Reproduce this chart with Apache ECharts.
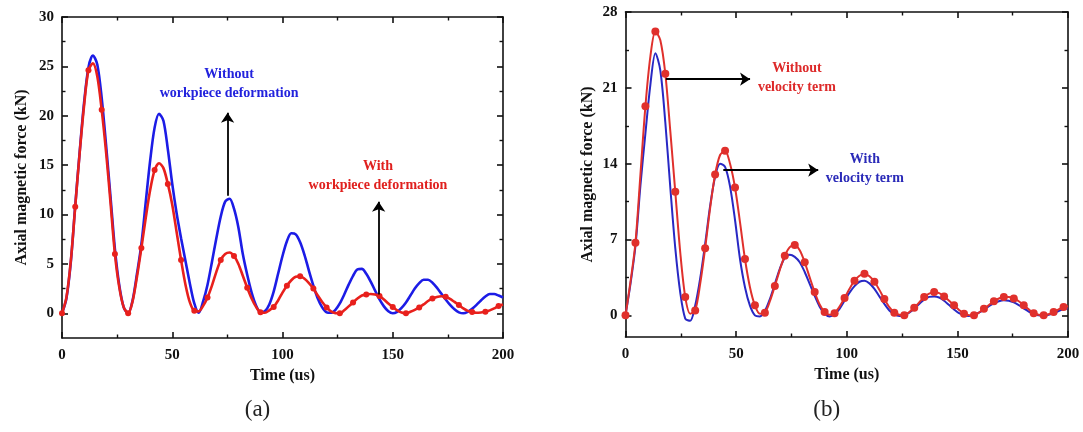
<!DOCTYPE html>
<html>
<head>
<meta charset="utf-8">
<script src="https://cdn.jsdelivr.net/npm/echarts@6.0.0/dist/echarts.min.js"></script>
<style>html,body{margin:0;padding:0;background:#fff;}#c{width:1083px;height:432px;}</style>
</head>
<body>
<div id="c"></div>
<script>
// ---------- DATA ----------
// (a) time grid in us
const timeA = [0,2,4,6,8,10,12,14,16,18,20,22,24,26,28,30,32,34,36,38,40,42,44,46,48,50,52,54,56,58,60,62,64,66,68,70,72,74,76,78,80,82,84,86,88,90,92,94,96,98,100,102,104,106,108,110,112,114,116,118,120,122,124,126,128,130,132,134,136,138,140,142,144,146,148,150,152,154,156,158,160,162,164,166,168,170,172,174,176,178,180,182,184,186,188,190,192,194,196,198,200];
// (a) Without workpiece deformation (blue), kN
const withoutDeform = [0,1.5,5.2,10.9,16.3,21.3,24.9,26.1,25.2,21.8,17.0,11.8,6.5,2.8,0.6,0.0,
  1.3,4.0,7.0,11.3,15.5,18.8,20.2,19.5,16.6,13.1,10.1,7.6,5.3,3.0,1.0,0.05,
  1.2,2.9,5.2,7.6,9.8,11.3,11.6,10.6,8.7,6.0,3.9,2.1,0.8,0.1,
  0.2,0.9,2.2,4.0,5.8,7.3,8.1,8.0,7.2,5.9,4.3,2.8,1.5,0.6,0.1,
  0.05,0.35,1.0,1.9,2.9,3.8,4.45,4.5,4.0,3.2,2.3,1.4,0.7,0.2,0.0,
  0.15,0.55,1.1,1.8,2.5,3.05,3.4,3.4,3.1,2.6,2.0,1.4,0.85,0.4,0.1,0.0,
  0.15,0.45,0.85,1.3,1.7,1.95,1.95,1.8,1.6];
// (a) With workpiece deformation (red), kN
const withDeform = [0,1.6,5.3,10.8,16.2,21.0,24.6,25.3,24.0,20.6,16.3,11.2,6.0,2.6,0.6,0.0,
  1.2,3.7,6.6,9.7,12.5,14.5,15.2,14.7,13.1,11.0,8.2,5.4,2.9,1.1,0.25,0.2,
  0.75,1.6,2.8,4.2,5.4,6.0,6.15,5.8,5.0,3.8,2.6,1.5,0.65,0.1,
  0.05,0.3,0.65,1.3,2.1,2.8,3.35,3.7,3.75,3.5,3.05,2.5,1.8,1.15,0.6,
  0.2,0.02,0.0,0.3,0.7,1.1,1.5,1.8,1.9,1.95,1.9,1.75,1.4,1.0,0.65,
  0.3,0.08,0.0,0.15,0.35,0.6,0.9,1.25,1.5,1.65,1.72,1.68,1.45,1.15,0.85,0.5,
  0.25,0.12,0.05,0.08,0.15,0.3,0.5,0.75,0.9];

// (b) time grid in us
const timeB = [0,2.25,4.5,6.75,9,11.25,13.5,15.75,18,20.25,22.5,24.75,27,29.25,31.5,33.75,36,38.25,40.5,42.75,45,47.25,49.5,51.75,54,56.25,58.5,60.75,63,65.25,67.5,69.75,72,74.25,76.5,78.75,81,83.25,85.5,87.75,90,92.25,94.5,96.75,99,101.25,103.5,105.75,108,110.25,112.5,114.75,117,119.25,121.5,123.75,126,128.25,130.5,132.75,135,137.25,139.5,141.75,144,146.25,148.5,150.75,153,155.25,157.5,159.75,162,164.25,166.5,168.75,171,173.25,175.5,177.75,180,182.25,184.5,186.75,189,191.25,193.5,195.75,198,200];
// (b) Without velocity term (red), kN
const withoutVelocity = [0,3.1,6.7,13.0,19.3,23.9,26.2,25.4,22.3,17.0,11.4,5.8,1.7,0.15,0.45,2.9,6.2,9.9,13.0,14.8,
  15.2,14.0,11.8,8.6,5.2,2.6,0.92,0.15,0.25,1.3,2.7,4.2,5.5,6.3,6.5,6.0,4.9,3.5,2.15,1.0,
  0.3,0.05,0.2,0.8,1.6,2.45,3.2,3.65,3.85,3.6,3.1,2.35,1.5,0.75,0.25,0.05,0.0,0.3,0.7,1.2,
  1.7,2.0,2.15,2.05,1.75,1.35,0.92,0.5,0.15,0.02,0.0,0.25,0.6,0.95,1.3,1.55,1.7,1.7,1.55,1.3,
  0.92,0.55,0.2,0.05,0.0,0.1,0.3,0.55,0.77,0.85];
// (b) With velocity term (blue), kN
const withVelocity = [0,2.9,6.4,12.0,16.8,21.3,24.2,22.6,17.8,11.8,6.2,2.1,-0.3,-0.5,0.9,3.4,6.6,10.1,12.8,14.0,
  13.7,11.9,8.8,5.2,2.6,0.9,0.0,-0.1,0.4,1.5,2.9,4.3,5.3,5.6,5.4,4.9,4.0,2.9,1.8,0.8,
  0.15,-0.1,0.1,0.6,1.35,2.1,2.7,3.1,3.2,2.95,2.45,1.75,1.05,0.45,0.1,-0.05,0.0,0.25,0.6,1.05,
  1.45,1.7,1.75,1.65,1.35,0.95,0.55,0.2,0.0,-0.05,0.05,0.25,0.5,0.85,1.1,1.3,1.4,1.35,1.2,0.95,
  0.65,0.35,0.1,0.0,-0.05,0.05,0.2,0.4,0.55,0.65];

// tick labels
const xTicks = [0,50,100,150,200];
const xMinor = [25,75,125,175];
const yTicksA = [0,5,10,15,20,25,30];
const yMinorA = [2.5,7.5,12.5,17.5,22.5,27.5];
const yTicksB = [0,7,14,21,28];
const yMinorB = [3.5,10.5,17.5,24.5];

// annotations (data coordinates)
const arrowsA = [[[75.1,11.9],[75.1,20.3]], [[143.6,1.9],[143.6,11.3]]];
const arrowsB = [[[18.2,21.8],[56.3,21.8]], [[44.2,13.4],[87.1,13.4]]];
const textsA = [
  {text:'Without\nworkpiece deformation', at:[75.8,23.2], color:'#2222dd'},
  {text:'With\nworkpiece deformation', at:[143.3,13.9], color:'#e0201e'}
];
const textsB = [
  {text:'Without\nvelocity term', at:[77.5,21.9], color:'#dd2a2a'},
  {text:'With\nvelocity term', at:[108.2,13.5], color:'#2a2ab8'}
];

// ---------- CHART ----------
const FONT = 'Liberation Serif';
const BLACK = '#111';
const chart = echarts.init(document.getElementById('c'), null, {renderer:'canvas'});

function xAxes(grid){
  const base = {gridIndex:grid, type:'value', min:0, max:200, splitLine:{show:false}};
  const line = {show:true, onZero:false, lineStyle:{color:BLACK, width:1.6}};
  return [
    Object.assign({}, base, {position:'bottom', axisLine:line,
      axisTick:{show:true, inside:true, length:6, customValues:xTicks, lineStyle:{color:BLACK,width:1.6}},
      axisLabel:{show:true, customValues:xTicks, margin:10, color:BLACK, fontFamily:FONT, fontWeight:'bold', fontSize:15},
      name:'Time (us)', nameLocation:'middle', nameGap:28,
      nameTextStyle:{color:BLACK, fontFamily:FONT, fontWeight:'bold', fontSize:16}}),
    Object.assign({}, base, {position:'bottom', axisLine:{show:false, onZero:false},
      axisTick:{show:true, inside:true, length:3.5, customValues:xMinor, lineStyle:{color:BLACK,width:1.4}},
      axisLabel:{show:false}}),
    Object.assign({}, base, {position:'top', axisLine:line,
      axisTick:{show:true, inside:true, length:6, customValues:xTicks, lineStyle:{color:BLACK,width:1.6}},
      axisLabel:{show:false}}),
    Object.assign({}, base, {position:'top', axisLine:{show:false, onZero:false},
      axisTick:{show:true, inside:true, length:3.5, customValues:xMinor, lineStyle:{color:BLACK,width:1.4}},
      axisLabel:{show:false}})
  ];
}
function yAxes(grid, min, max, majors, minors, gap){
  const base = {gridIndex:grid, type:'value', min:min, max:max, splitLine:{show:false}};
  const line = {show:true, onZero:false, lineStyle:{color:BLACK, width:1.6}};
  return [
    Object.assign({}, base, {position:'left', axisLine:line,
      axisTick:{show:true, inside:true, length:6, customValues:majors, lineStyle:{color:BLACK,width:1.6}},
      axisLabel:{show:true, customValues:majors, margin:8, color:BLACK, fontFamily:FONT, fontWeight:'bold', fontSize:15},
      name:'Axial magnetic force (kN)', nameLocation:'middle', nameGap:gap,
      nameTextStyle:{color:BLACK, fontFamily:FONT, fontWeight:'bold', fontSize:16}}),
    Object.assign({}, base, {position:'left', axisLine:{show:false, onZero:false},
      axisTick:{show:true, inside:true, length:3.5, customValues:minors, lineStyle:{color:BLACK,width:1.4}},
      axisLabel:{show:false}}),
    Object.assign({}, base, {position:'right', axisLine:line,
      axisTick:{show:true, inside:true, length:6, customValues:majors, lineStyle:{color:BLACK,width:1.6}},
      axisLabel:{show:false}}),
    Object.assign({}, base, {position:'right', axisLine:{show:false, onZero:false},
      axisTick:{show:true, inside:true, length:3.5, customValues:minors, lineStyle:{color:BLACK,width:1.4}},
      axisLabel:{show:false}})
  ];
}
function arrowMarks(arr){
  return {
    silent:true, animation:false, symbol:['none','arrow'], symbolSize:10,
    label:{show:false}, lineStyle:{color:'#000', width:1.8, type:'solid'},
    emphasis:{disabled:true},
    data: arr.map(a => [{coord:a[0]}, {coord:a[1]}])
  };
}

const blueA = '#1c1ce6', redA = '#e8201c', blueB = '#2828c4', redB = '#e0302c';

const option = {
  animation:false,
  backgroundColor:'#fff',
  grid:[
    {left:62, top:17, width:441, height:321, outerBoundsMode:'none', containLabel:false},
    {left:625.5, top:12, width:442.5, height:325, outerBoundsMode:'none', containLabel:false}
  ],
  xAxis: xAxes(0).concat(xAxes(1)),
  yAxis: yAxes(0, -2.5, 30, yTicksA, yMinorA, 32).concat(yAxes(1, -2, 28, yTicksB, yMinorB, 30)),
  series:[
    {type:'line', xAxisIndex:0, yAxisIndex:0, name:'Without workpiece deformation',
     data: timeA.map((t,i)=>[t, withoutDeform[i]]), showSymbol:false, smooth:0.3,
     lineStyle:{color:blueA, width:2.6}, itemStyle:{color:blueA}, z:2,
     markLine: arrowMarks(arrowsA)},
    {type:'line', xAxisIndex:0, yAxisIndex:0, name:'With workpiece deformation',
     data: timeA.map((t,i)=>({value:[t, withDeform[i]], symbol: i%3===0 ? 'circle' : 'none'})),
     showSymbol:true, showAllSymbol:true, symbolSize:6, smooth:0.3,
     lineStyle:{color:redA, width:2.6}, itemStyle:{color:redA}, z:3},
    {type:'line', xAxisIndex:4, yAxisIndex:4, name:'With velocity term',
     data: timeB.map((t,i)=>[t, withVelocity[i]]), showSymbol:false, smooth:0.3,
     lineStyle:{color:blueB, width:2}, itemStyle:{color:blueB}, z:2,
     markLine: arrowMarks(arrowsB)},
    {type:'line', xAxisIndex:4, yAxisIndex:4, name:'Without velocity term',
     data: timeB.map((t,i)=>({value:[t, withoutVelocity[i]], symbol: (i%2===0 && t<=198) ? 'circle' : 'none'})),
     showSymbol:true, showAllSymbol:true, symbolSize:8, smooth:0.3,
     lineStyle:{color:redB, width:2}, itemStyle:{color:redB}, z:3}
  ]
};
chart.setOption(option);

// annotation texts + captions
const graphics = [];
function addTexts(list, xi, yi){
  list.forEach(a => {
    const p = chart.convertToPixel({xAxisIndex:xi, yAxisIndex:yi}, a.at);
    graphics.push({type:'text', x:p[0], y:p[1], z:100, style:{
      text:a.text, fill:a.color, fontFamily:FONT, fontWeight:'bold', fontSize:14,
      lineHeight:19, textAlign:'center', textVerticalAlign:'middle'}});
  });
}
addTexts(textsA, 0, 0);
addTexts(textsB, 4, 4);
const capA = chart.convertToPixel({xAxisIndex:0}, 100);
const capB = chart.convertToPixel({xAxisIndex:4}, 100);
graphics.push({type:'text', x:capA - 25, y:410, style:{text:'(a)', fill:'#222', fontFamily:FONT, fontSize:23, textAlign:'center', textVerticalAlign:'middle'}});
graphics.push({type:'text', x:capB - 20, y:410, style:{text:'(b)', fill:'#222', fontFamily:FONT, fontSize:23, textAlign:'center', textVerticalAlign:'middle'}});
chart.setOption({graphic:graphics});
</script>
</body>
</html>
